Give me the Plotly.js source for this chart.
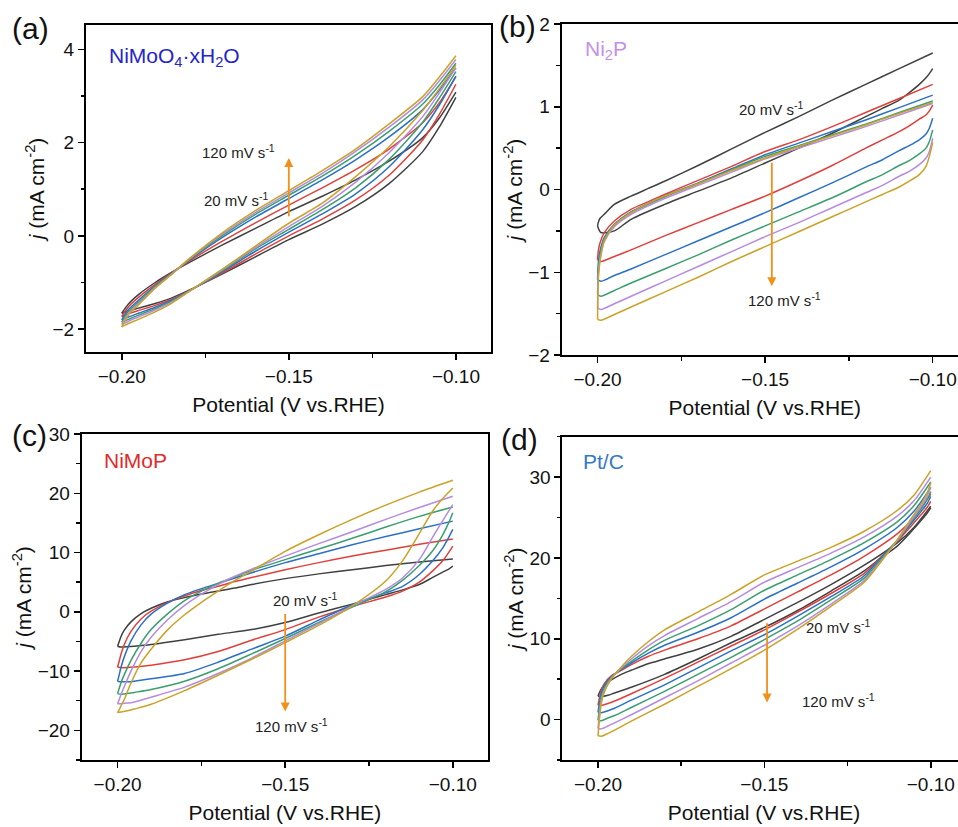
<!DOCTYPE html>
<html>
<head>
<meta charset="utf-8">
<script src="https://cdn.plot.ly/plotly-3.0.1.min.js"></script>
<style>
html,body{margin:0;padding:0;overflow:hidden;background:#fff;}
#chart{width:975px;height:827px;}
</style>
</head>
<body>
<div id="chart"></div>
<script>
// ---------- data ----------
const scanRates = ['20 mV/s', '40 mV/s', '60 mV/s', '80 mV/s', '100 mV/s', '120 mV/s'];

// (a) NiMoO4·xH2O
const aV = [-0.2, -0.198, -0.195, -0.19, -0.185, -0.18, -0.17, -0.16, -0.15, -0.14, -0.13, -0.12, -0.11, -0.105, -0.10];
const aUp = [
  [-1.66, -1.46, -1.26, -1.0, -0.78, -0.58, -0.2, 0.16, 0.52, 0.85, 1.2, 1.6, 2.1, 2.52, 3.08],
  [-1.73, -1.52, -1.32, -1.04, -0.79, -0.55, -0.12, 0.28, 0.66, 1.03, 1.42, 1.86, 2.42, 2.85, 3.42],
  [-1.8, -1.58, -1.38, -1.07, -0.8, -0.53, -0.04, 0.4, 0.8, 1.2, 1.63, 2.12, 2.7, 3.12, 3.6],
  [-1.85, -1.62, -1.42, -1.09, -0.81, -0.52, 0.0, 0.46, 0.87, 1.28, 1.73, 2.24, 2.82, 3.23, 3.7],
  [-1.9, -1.66, -1.45, -1.11, -0.82, -0.51, 0.03, 0.5, 0.92, 1.34, 1.81, 2.33, 2.91, 3.32, 3.78],
  [-1.95, -1.69, -1.48, -1.12, -0.82, -0.5, 0.06, 0.54, 0.97, 1.4, 1.86, 2.4, 2.98, 3.4, 3.86]
];
const aDn = [
  [-1.66, -1.61, -1.55, -1.45, -1.33, -1.17, -0.82, -0.45, -0.08, 0.25, 0.63, 1.12, 1.8, 2.33, 2.97],
  [-1.73, -1.67, -1.6, -1.49, -1.36, -1.18, -0.8, -0.39, 0.0, 0.36, 0.77, 1.3, 2.05, 2.6, 3.25],
  [-1.8, -1.74, -1.66, -1.53, -1.38, -1.19, -0.77, -0.33, 0.08, 0.47, 0.9, 1.48, 2.27, 2.8, 3.42],
  [-1.85, -1.79, -1.7, -1.56, -1.4, -1.19, -0.75, -0.28, 0.14, 0.56, 1.03, 1.64, 2.43, 2.95, 3.52],
  [-1.9, -1.83, -1.74, -1.59, -1.42, -1.2, -0.73, -0.25, 0.2, 0.63, 1.15, 1.78, 2.55, 3.06, 3.6],
  [-1.95, -1.88, -1.79, -1.63, -1.44, -1.2, -0.72, -0.22, 0.27, 0.7, 1.27, 1.91, 2.68, 3.15, 3.66]
];

// (b) Ni2P
const bVup = [-0.2, -0.1998, -0.1993, -0.198, -0.195, -0.19, -0.185, -0.18, -0.17, -0.16, -0.15, -0.14, -0.13, -0.12, -0.11, -0.10];
const bUp = [
  [-0.44, -0.4, -0.35, -0.3, -0.18, -0.08, 0.01, 0.1, 0.29, 0.49, 0.69, 0.88, 1.08, 1.27, 1.46, 1.65],
  [-0.85, -0.75, -0.65, -0.52, -0.38, -0.24, -0.15, -0.06, 0.11, 0.28, 0.46, 0.6, 0.76, 0.93, 1.1, 1.27],
  [-1.09, -0.9, -0.75, -0.58, -0.42, -0.27, -0.17, -0.08, 0.08, 0.25, 0.42, 0.56, 0.7, 0.84, 0.99, 1.14],
  [-1.27, -1.0, -0.8, -0.6, -0.43, -0.28, -0.18, -0.09, 0.07, 0.24, 0.4, 0.53, 0.66, 0.79, 0.93, 1.07],
  [-1.43, -1.05, -0.85, -0.63, -0.45, -0.3, -0.2, -0.11, 0.05, 0.21, 0.37, 0.5, 0.63, 0.76, 0.9, 1.04],
  [-1.57, -1.1, -0.88, -0.62, -0.43, -0.28, -0.17, -0.08, 0.07, 0.23, 0.38, 0.52, 0.65, 0.78, 0.92, 1.05]
];
const bVdn = [-0.2, -0.199, -0.195, -0.19, -0.18, -0.17, -0.16, -0.15, -0.14, -0.13, -0.12, -0.115, -0.11, -0.107, -0.104, -0.102, -0.101, -0.10];
const bDn = [
  [-0.44, -0.52, -0.5, -0.36, -0.18, -0.02, 0.14, 0.32, 0.5, 0.68, 0.88, 0.98, 1.08, 1.17, 1.27, 1.35, 1.4, 1.46],
  [-0.85, -0.87, -0.81, -0.73, -0.56, -0.4, -0.24, -0.08, 0.1, 0.29, 0.5, 0.6, 0.7, 0.77, 0.85, 0.9, 0.95, 1.02],
  [-1.09, -1.11, -1.04, -0.96, -0.79, -0.62, -0.45, -0.28, -0.1, 0.08, 0.27, 0.36, 0.47, 0.53, 0.6, 0.67, 0.74, 0.86],
  [-1.27, -1.29, -1.22, -1.13, -0.96, -0.79, -0.61, -0.44, -0.27, -0.1, 0.09, 0.18, 0.29, 0.35, 0.43, 0.5, 0.58, 0.72],
  [-1.43, -1.45, -1.38, -1.29, -1.11, -0.93, -0.75, -0.57, -0.4, -0.22, -0.04, 0.05, 0.16, 0.22, 0.3, 0.38, 0.46, 0.62],
  [-1.57, -1.58, -1.51, -1.42, -1.24, -1.06, -0.87, -0.69, -0.51, -0.33, -0.15, -0.06, 0.03, 0.1, 0.18, 0.28, 0.4, 0.57]
];

// (c) NiMoP
const cVup = [-0.2, -0.1995, -0.199, -0.198, -0.196, -0.193, -0.19, -0.185, -0.18, -0.175, -0.17, -0.165, -0.16, -0.15, -0.14, -0.13, -0.12, -0.11, -0.10];
const cUp = [
  [-5.8, -5.0, -4.2, -3.1, -1.7, -0.3, 0.6, 1.7, 2.4, 3.0, 3.5, 4.0, 4.6, 5.6, 6.4, 7.1, 7.8, 8.4, 8.9],
  [-9.3, -8.3, -7.2, -5.5, -3.3, -1.2, 0.1, 1.6, 2.7, 3.6, 4.3, 5.1, 5.8, 7.1, 8.3, 9.4, 10.4, 11.4, 12.3],
  [-11.7, -10.6, -9.4, -7.6, -4.9, -2.2, -0.4, 1.5, 2.9, 3.9, 4.8, 5.7, 6.6, 8.3, 9.8, 11.3, 12.7, 14.0, 15.3],
  [-13.8, -12.9, -12.0, -10.6, -8.2, -5.3, -3.0, -0.3, 1.9, 3.5, 4.8, 5.9, 7.0, 8.8, 10.6, 12.4, 14.3, 16.1, 17.7],
  [-15.5, -14.8, -14.0, -12.6, -10.0, -6.7, -4.3, -1.3, 1.1, 3.0, 4.6, 6.0, 7.2, 9.4, 11.5, 13.5, 15.6, 17.6, 19.5],
  [-17.0, -16.5, -15.9, -14.8, -12.0, -8.6, -6.3, -3.0, -0.5, 1.6, 3.5, 5.3, 6.9, 10.2, 13.0, 15.6, 18.0, 20.2, 22.2]
];
const cVdn = [-0.2, -0.199, -0.197, -0.195, -0.19, -0.18, -0.17, -0.16, -0.15, -0.14, -0.13, -0.12, -0.115, -0.11, -0.106, -0.103, -0.101, -0.10];
const cDn = [
  [-5.8, -5.95, -5.9, -5.8, -5.5, -4.7, -3.8, -3.0, -1.8, -0.2, 1.3, 2.9, 3.7, 4.6, 5.8, 6.7, 7.3, 7.7],
  [-9.3, -9.4, -9.4, -9.3, -9.0, -8.1, -6.7, -4.8, -3.0, -0.9, 0.9, 2.5, 3.5, 5.0, 6.9, 8.6, 10.2, 11.1],
  [-11.7, -11.8, -11.8, -11.7, -11.3, -10.4, -8.5, -6.3, -4.1, -1.4, 1.2, 3.2, 4.3, 6.3, 8.6, 10.8, 12.8, 13.9],
  [-13.8, -13.9, -13.8, -13.6, -13.1, -11.7, -9.6, -7.1, -4.5, -1.8, 0.8, 3.4, 5.3, 7.8, 10.3, 13.0, 15.3, 16.7],
  [-15.5, -15.5, -15.4, -15.2, -14.4, -12.7, -10.4, -7.8, -4.9, -2.0, 1.0, 3.8, 5.7, 8.8, 12.6, 15.4, 17.2, 18.1],
  [-17.0, -16.9, -16.7, -16.4, -15.6, -13.3, -10.7, -8.0, -5.2, -2.3, 1.0, 5.2, 8.6, 13.2, 17.0, 19.1, 20.3, 20.9]
];

// (d) Pt/C
const dVup = [-0.2, -0.1995, -0.199, -0.198, -0.196, -0.193, -0.19, -0.185, -0.18, -0.17, -0.16, -0.15, -0.14, -0.13, -0.12, -0.11, -0.105, -0.10];
const dUp = [
  [2.9, 3.4, 3.8, 4.3, 4.9, 5.6, 6.1, 6.9, 7.5, 8.7, 10.3, 12.4, 14.5, 16.7, 19.1, 21.9, 23.8, 26.4],
  [1.8, 2.8, 3.7, 4.5, 5.4, 6.1, 6.8, 7.8, 8.6, 10.0, 11.6, 13.7, 15.8, 17.9, 20.2, 23.0, 25.0, 27.9],
  [0.9, 2.2, 3.3, 4.3, 5.3, 6.2, 7.0, 8.2, 9.2, 10.8, 12.6, 14.9, 16.9, 18.9, 21.1, 23.8, 25.8, 28.7],
  [-0.1, 1.6, 2.9, 4.0, 5.2, 6.3, 7.2, 8.6, 9.8, 11.6, 13.6, 16.0, 17.9, 19.8, 21.9, 24.5, 26.5, 29.4],
  [-1.1, 0.9, 2.4, 3.7, 5.1, 6.4, 7.5, 9.1, 10.4, 12.5, 14.6, 17.0, 18.8, 20.6, 22.6, 25.2, 27.1, 30.0],
  [-2.0, 0.3, 2.0, 3.5, 5.0, 6.5, 7.8, 9.6, 11.1, 13.3, 15.5, 17.9, 19.6, 21.3, 23.3, 25.9, 27.8, 30.8]
];
const dVdn = [-0.2, -0.199, -0.197, -0.195, -0.19, -0.18, -0.17, -0.16, -0.15, -0.14, -0.13, -0.12, -0.115, -0.11, -0.106, -0.103, -0.101, -0.10];
const dDn = [
  [2.9, 2.85, 3.0, 3.3, 4.0, 5.6, 7.5, 9.5, 11.4, 13.5, 15.9, 18.4, 20.0, 21.5, 23.2, 24.6, 25.6, 26.2],
  [1.8, 1.75, 2.0, 2.3, 3.2, 5.1, 7.1, 9.1, 11.1, 13.3, 15.6, 18.1, 20.1, 22.1, 23.9, 25.3, 26.3, 27.0],
  [0.9, 0.85, 1.1, 1.4, 2.4, 4.3, 6.4, 8.5, 10.5, 12.8, 15.2, 17.8, 20.0, 22.2, 24.2, 25.7, 26.8, 27.6],
  [-0.1, -0.15, 0.2, 0.5, 1.5, 3.5, 5.6, 7.7, 9.9, 12.2, 14.8, 17.5, 19.8, 22.2, 24.4, 26.0, 27.3, 28.2],
  [-1.1, -1.15, -0.8, -0.4, 0.6, 2.7, 4.8, 7.0, 9.2, 11.6, 14.3, 17.2, 19.6, 22.2, 24.6, 26.3, 27.7, 28.8],
  [-2.0, -2.05, -1.7, -1.3, -0.2, 1.9, 4.1, 6.3, 8.6, 11.2, 14.0, 17.0, 19.5, 22.3, 24.8, 26.6, 28.1, 29.3]
];

// ---------- styling ----------
const lineColors = ['#404040', '#e0403c', '#2a70c4', '#3a9e6e', '#b48be0', '#c9a227'];
const FONT = 'Arial, "Liberation Sans", sans-serif';
const W = 975, H = 827;

function loopTraces(vUp, up, vDn, dn, xa, ya) {
  return up.map((u, i) => ({
    type: 'scatter', mode: 'lines',
    x: vUp.concat([null], vDn.slice().reverse()),
    y: u.concat([null], dn[i].slice().reverse()),
    xaxis: xa, yaxis: ya, name: scanRates[i],
    line: {color: lineColors[i], width: 1.5, shape: 'spline', smoothing: 0.7},
    hoverinfo: 'skip', showlegend: false
  }));
}

const data = [].concat(
  loopTraces(aV, aUp, aV, aDn, 'x', 'y'),
  loopTraces(bVup, bUp, bVdn, bDn, 'x2', 'y2'),
  loopTraces(cVup, cUp, cVdn, cDn, 'x3', 'y3'),
  loopTraces(dVup, dUp, dVdn, dDn, 'x4', 'y4')
);

function xAx(l, r, anchor) {
  return {
    domain: [l / W, r / W], anchor: anchor, range: [-0.2107, -0.0895],
    tick0: -0.2, dtick: 0.05, tickformat: '.2f',
    showline: true, linewidth: 2, linecolor: '#000', mirror: true,
    ticks: 'outside', ticklen: 6, tickwidth: 1.5, tickcolor: '#000',
    minor: {ticks: 'outside', ticklen: 3.5, tickwidth: 1.5, tickcolor: '#000', dtick: 0.025, tick0: -0.2, showgrid: false},
    showgrid: false, zeroline: false,
    tickfont: {family: FONT, size: 19, color: '#111'},
    title: {text: 'Potential (V vs.RHE)', font: {family: FONT, size: 21, color: '#111'}, standoff: 12}
  };
}
function yAx(t, b, anchor, range, dtick, mdtick, so) {
  return {
    domain: [1 - b / H, 1 - t / H], anchor: anchor, range: range,
    dtick: dtick, tick0: 0,
    showline: true, linewidth: 2, linecolor: '#000', mirror: true,
    ticks: 'outside', ticklen: 6, tickwidth: 1.5, tickcolor: '#000',
    minor: {ticks: 'outside', ticklen: 3.5, tickwidth: 1.5, tickcolor: '#000', dtick: mdtick, tick0: 0, showgrid: false},
    showgrid: false, zeroline: false,
    tickfont: {family: FONT, size: 19, color: '#111'},
    title: {text: '<i>j</i> (mA cm<sup>-2</sup>)', font: {family: FONT, size: 21, color: '#111'}, standoff: so}
  };
}

const ORANGE = '#f39019';
function arrow(xr, yr, x, y0, y1) {
  return {xref: xr, yref: yr, axref: xr, ayref: yr, x: x, y: y1, ax: x, ay: y0,
    text: '', showarrow: true, arrowhead: 2, arrowsize: 1, arrowwidth: 1.8, arrowcolor: ORANGE};
}
function rateLabel(xr, yr, x, y, txt) {
  return {xref: xr, yref: yr, x: x, y: y, text: txt, showarrow: false,
    font: {family: FONT, size: 15, color: '#222'}, xanchor: 'center', yanchor: 'middle'};
}
function sampleLabel(xr, yr, x, y, txt, color) {
  return {xref: xr, yref: yr, x: x, y: y, text: txt, showarrow: false,
    font: {family: FONT, size: 21, color: color}, xanchor: 'left', yanchor: 'middle'};
}
function panelLabel(px, py, txt) {
  return {xref: 'paper', yref: 'paper', x: px / W, y: 1 - py / H, text: txt, showarrow: false,
    font: {family: FONT, size: 30, color: '#111'}, xanchor: 'center', yanchor: 'middle'};
}
const S1 = ' mV s<sup>-1</sup>';

const layout = {
  width: W, height: H,
  margin: {l: 0, r: 0, t: 0, b: 0},
  paper_bgcolor: '#fff', plot_bgcolor: '#fff',
  showlegend: false,
  font: {family: FONT},
  xaxis: xAx(86, 491, 'y'),
  yaxis: yAx(25, 352, 'x', [-2.49, 4.52], 2, 1, 2),
  xaxis2: xAx(561.7, 967.9, 'y2'),
  yaxis2: yAx(24, 355, 'x2', [-2, 2], 1, 0.5, 0),
  xaxis3: xAx(81.7, 488, 'y3'),
  yaxis3: yAx(434, 760, 'x3', [-25, 30], 10, 5, 0),
  xaxis4: xAx(562.4, 965.7, 'y4'),
  yaxis4: yAx(436.7, 760, 'x4', [-5, 35], 10, 5, 0),
  annotations: [
    panelLabel(30, 29, '(a)'), panelLabel(517, 26, '(b)'),
    panelLabel(29, 435, '(c)'), panelLabel(519, 439, '(d)'),
    sampleLabel('x', 'y', -0.2045, 3.84, 'NiMoO<sub>4</sub>·xH<sub>2</sub>O', '#2424cc'),
    sampleLabel('x2', 'y2', -0.2043, 1.69, 'Ni<sub>2</sub>P', '#c490e8'),
    sampleLabel('x3', 'y3', -0.2046, 25.5, 'NiMoP', '#e02a2a'),
    sampleLabel('x4', 'y4', -0.205, 31.9, 'Pt/C', '#3478c8'),
    arrow('x', 'y', -0.15, 0.39, 1.67),
    rateLabel('x', 'y', -0.165, 1.8, '120' + S1),
    rateLabel('x', 'y', -0.1656, 0.79, '20' + S1),
    arrow('x2', 'y2', -0.148, 0.34, -1.17),
    rateLabel('x2', 'y2', -0.148, 0.98, '20' + S1),
    rateLabel('x2', 'y2', -0.1443, -1.33, '120' + S1),
    arrow('x3', 'y3', -0.15, -0.1, -16.8),
    rateLabel('x3', 'y3', -0.144, 2.07, '20' + S1),
    rateLabel('x3', 'y3', -0.148, -19.17, '120' + S1),
    arrow('x4', 'y4', -0.1492, 12.1, 2.1),
    rateLabel('x4', 'y4', -0.1278, 11.47, '20' + S1),
    rateLabel('x4', 'y4', -0.1278, 2.34, '120' + S1)
  ]
};

Plotly.newPlot('chart', data, layout, {staticPlot: true, displayModeBar: false});
</script>
</body>
</html>
